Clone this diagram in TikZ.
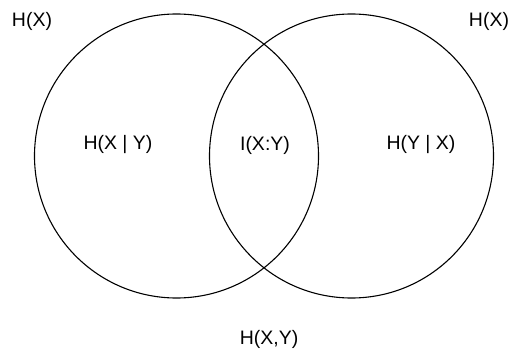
\documentclass[tikz,border=0pt]{standalone}
\usepackage{fontspec}
\setmainfont{Liberation Sans}
\usetikzlibrary{positioning}

\begin{document}
\begin{tikzpicture}[
  x=1pt, y=-1pt,
  setc/.style  = {draw, circle, line width=1.1pt, minimum size=284pt,
                  inner sep=0pt},
  lbl/.style   = {inner sep=0pt, font=\fontsize{19.5}{23}\selectfont},
]
  \useasboundingbox (0,0) rectangle (511,350);

  \node[setc] (hx) at (176.5,156) {};
  \node[setc] (hy) at (351.5,156) {};

  \node[lbl] (hxtop)  at (32,21)   {H(X)};
  \node[lbl] (hytop)  at (489,21)  {H(X)};
  \node[lbl] (hxgy)   at (118,145) {H(X | Y)};
  \node[lbl] (ixy)    at (265,145) {I(X:Y)};
  \node[lbl] (hygx)   at (421,145) {H(Y | X)};
  \node[lbl] (hxy)    at (269,339) {H(X,Y)};
\end{tikzpicture}
\end{document}
